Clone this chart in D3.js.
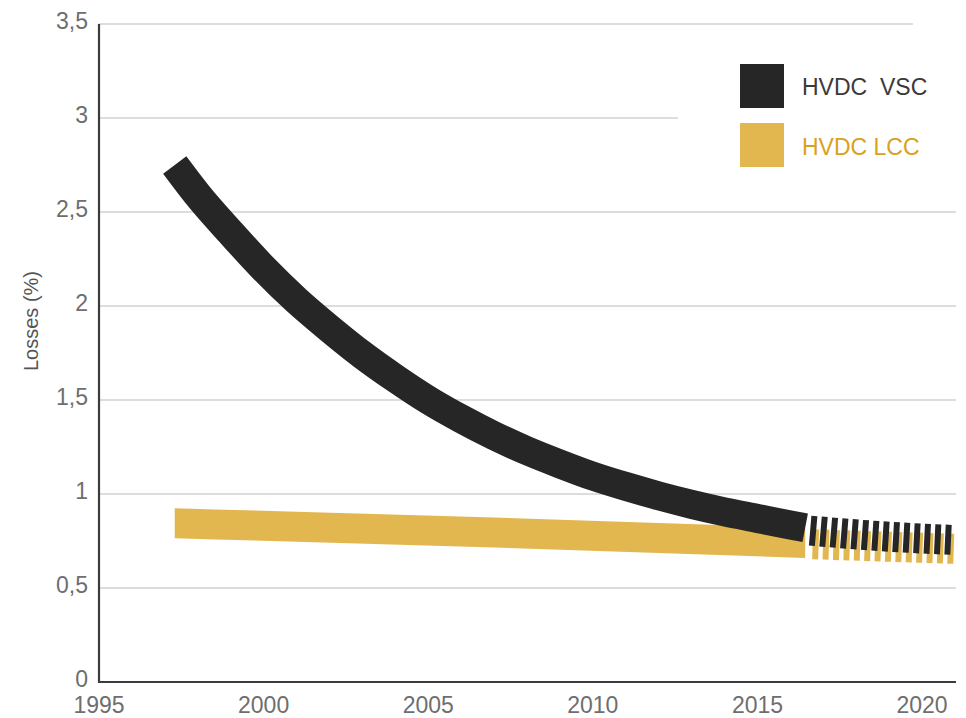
<!DOCTYPE html>
<html>
<head>
<meta charset="utf-8">
<script src="https://cdn.jsdelivr.net/npm/d3@7"></script>
<style>
  html, body { margin: 0; padding: 0; background: #fff; }
  svg { display: block; }
  text { font-family: "Liberation Sans", Arial, Helvetica, sans-serif; }
</style>
</head>
<body>
<svg id="chart" width="966" height="718"></svg>
<script>
// Converter losses over time (%), HVDC VSC vs HVDC LCC
const yearTicks = [1995, 2000, 2005, 2010, 2015, 2020];
const lossTicks = [0, 0.5, 1, 1.5, 2, 2.5, 3, 3.5];
const tickLabels = ["0", "0,5", "1", "1,5", "2", "2,5", "3", "3,5"];

// Historical values (solid band)
const vscYears = [1997.3, 1998, 1999, 2000, 2001, 2002, 2003, 2004, 2005, 2006, 2007, 2008, 2009, 2010, 2011, 2012, 2013, 2014, 2015, 2016, 2016.45];
const vscLoss  = [2.75, 2.59, 2.39, 2.20, 2.03, 1.88, 1.74, 1.615, 1.50, 1.40, 1.31, 1.23, 1.16, 1.095, 1.04, 0.99, 0.945, 0.905, 0.87, 0.835, 0.82];
const lccYears = [1997.3, 2007, 2016.45];
const lccLoss  = [0.845, 0.795, 0.74];

// Projected values (dashed band)
const vscProjYears = [2016.6, 2018.8, 2021];
const vscProjLoss  = [0.805, 0.775, 0.755];
const lccProjYears = [2016.6, 2021];
const lccProjLoss  = [0.733, 0.708];

const legendItems = ["HVDC  VSC", "HVDC LCC"];

const BLACK = "#262626";
const GOLD = "#E2B750";

const svg = d3.select("#chart");
const x = d3.scaleLinear().domain([1995, 2021]).range([99, 955]);
const y = d3.scaleLinear().domain([0, 3.5]).range([682, 24]);

// Horizontal grid lines (the 3 and 3,5 lines stop short near the legend)
const gridEnd = v => v === 3 ? 678 : (v === 3.5 ? 913 : 956);
svg.append("g").selectAll("line")
  .data(lossTicks.filter(v => v > 0))
  .join("line")
  .attr("x1", x(1995)).attr("x2", d => gridEnd(d))
  .attr("y1", d => y(d)).attr("y2", d => y(d))
  .attr("stroke", "#d2d2d2").attr("stroke-width", 1.6);

// Y tick labels
svg.append("g").selectAll("text")
  .data(lossTicks)
  .join("text")
  .attr("x", 88).attr("y", d => y(d) + 5)
  .attr("text-anchor", "end")
  .attr("font-size", 23).attr("fill", "#6e6e6e")
  .text((d, i) => tickLabels[i]);

// X tick labels
svg.append("g").selectAll("text")
  .data(yearTicks)
  .join("text")
  .attr("x", d => x(d)).attr("y", 713)
  .attr("text-anchor", "middle")
  .attr("font-size", 23).attr("fill", "#6e6e6e")
  .text(d => d);

// Y axis title
svg.append("text")
  .attr("transform", "translate(38,321) rotate(-90)")
  .attr("text-anchor", "middle")
  .attr("font-size", 20).attr("fill", "#555")
  .text("Losses (%)");

// LCC band: constant vertical thickness
const half = 15;
const band = d3.area()
  .x(d => x(d[0]))
  .y0(d => y(d[1]) - half)
  .y1(d => y(d[1]) + half)
  .curve(d3.curveMonotoneX);
const lineGen = d3.line()
  .x(d => x(d[0]))
  .y(d => y(d[1]))
  .curve(d3.curveMonotoneX);

const zip = (a, b) => a.map((v, i) => [v, b[i]]);

// LCC first (underneath)
svg.append("path")
  .datum(zip(lccYears, lccLoss))
  .attr("d", band).attr("fill", GOLD);
svg.append("path")
  .datum(zip(lccProjYears, lccProjLoss))
  .attr("d", lineGen)
  .attr("fill", "none").attr("stroke", GOLD)
  .attr("stroke-width", 30)
  .attr("stroke-dasharray", "6 4.4")
  .attr("stroke-dashoffset", -2.5);

// VSC on top: thick stroke
svg.append("path")
  .datum(zip(vscYears, vscLoss))
  .attr("d", lineGen)
  .attr("fill", "none").attr("stroke", BLACK)
  .attr("stroke-width", 29)
  .attr("stroke-linecap", "butt");
svg.append("path")
  .datum(zip(vscProjYears, vscProjLoss))
  .attr("d", lineGen)
  .attr("fill", "none").attr("stroke", BLACK)
  .attr("stroke-width", 30)
  .attr("stroke-dasharray", "6 4.4");

// Axes lines
svg.append("line")
  .attr("x1", 99).attr("x2", 99).attr("y1", y(3.5)).attr("y2", y(0) + 1)
  .attr("stroke", "#3c3c3c").attr("stroke-width", 2.2);
svg.append("line")
  .attr("x1", 98).attr("x2", 956).attr("y1", y(0)).attr("y2", y(0))
  .attr("stroke", "#3c3c3c").attr("stroke-width", 2.2);

// Legend
const legend = svg.append("g");
const legendColors = [BLACK, GOLD];
const legendText = ["#3a3a3a", "#D9A11C"];
legendItems.forEach((name, i) => {
  legend.append("rect")
    .attr("x", 740).attr("y", 64 + i * 59)
    .attr("width", 44).attr("height", 44)
    .attr("fill", legendColors[i]);
  legend.append("text")
    .attr("x", 802).attr("y", 95 + i * 60)
    .attr("font-size", 23)
    .attr("fill", legendText[i])
    .style("white-space", "pre")
    .text(name);
});
</script>
</body>
</html>
